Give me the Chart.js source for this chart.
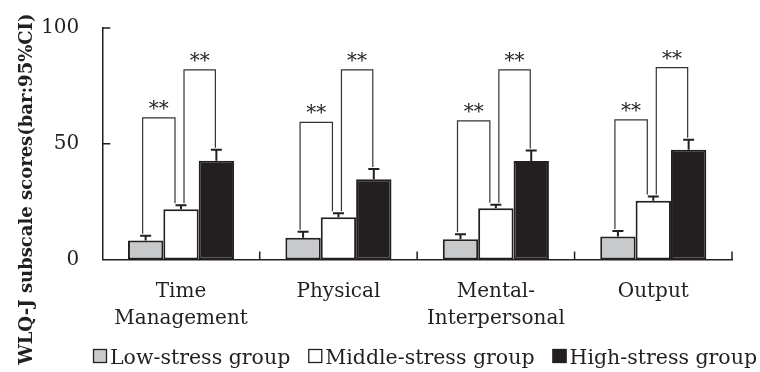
<!DOCTYPE html>
<html>
<head>
<meta charset="utf-8">
<script src="https://cdn.jsdelivr.net/npm/chart.js@4/dist/chart.umd.min.js"></script>
<style>
  html, body { margin: 0; padding: 0; background: #ffffff; }
  #wrap { position: relative; width: 760px; height: 372px; }
</style>
</head>
<body>
<div id="wrap"><canvas id="c" width="760" height="372"></canvas></div>
<script>
// WLQ-J subscales
const categories = [["Time", "Management"], ["Physical"], ["Mental-", "Interpersonal"], ["Output"]];
const seriesNames = ["Low-stress group", "Middle-stress group", "High-stress group"];

// Mean scores
const lowStress = [8.2, 9.4, 8.7, 9.9];
const middleStress = [21.7, 18.3, 22.1, 25.4];
const highStress = [42.7, 34.7, 42.6, 47.4];

// Upper limits of the 95% confidence intervals
const lowUpper = [10.3, 12.0, 10.9, 12.3];
const middleUpper = [23.4, 20.0, 23.6, 27.2];
const highUpper = [47.4, 39.1, 47.1, 51.7];

// Heights of the significance brackets (** p<0.01)
const sigLowMid = [61.2, 59.2, 59.9, 60.3];
const sigMidHigh = [81.9, 81.9, 81.9, 82.9];
const sigLabel = "**";

const yTicks = [0, 50, 100];
const yTitle = "WLQ-J subscale scores(bar:95%CI)";

const INK = "#231f20";
const FONT = "'DejaVu Serif', serif";
const fills = ["#c8c9cb", "#ffffff", INK];
const uppers = [lowUpper, middleUpper, highUpper];

const annotate = {
  id: "annotate",
  afterDatasetsDraw(chart) {
    const ctx = chart.ctx;
    const ys = chart.scales.y, xs = chart.scales.x;
    const area = chart.chartArea;
    ctx.save();
    ctx.strokeStyle = INK;
    ctx.fillStyle = INK;

    // upper confidence-limit whiskers
    ctx.lineWidth = 2;
    chart.data.datasets.forEach((ds, i) => {
      chart.getDatasetMeta(i).data.forEach((bar, j) => {
        const yt = ys.getPixelForValue(uppers[i][j]);
        ctx.beginPath();
        ctx.moveTo(bar.x, bar.y);
        ctx.lineTo(bar.x, yt);
        ctx.moveTo(bar.x - 5.5, yt);
        ctx.lineTo(bar.x + 5.5, yt);
        ctx.stroke();
      });
    });

    // significance brackets
    const lowBars = chart.getDatasetMeta(0).data;
    const midBars = chart.getDatasetMeta(1).data;
    const highBars = chart.getDatasetMeta(2).data;
    ctx.lineWidth = 1.2;
    ctx.strokeStyle = "#333333";
    ctx.font = "20px " + FONT;
    ctx.textAlign = "center";
    ctx.textBaseline = "alphabetic";
    const bracket = (xa, xb, top, endA, endB) => {
      const yTop = ys.getPixelForValue(top);
      const ya = ys.getPixelForValue(endA) - 2;
      const yb = ys.getPixelForValue(endB) - 2;
      ctx.beginPath();
      ctx.moveTo(xa, ya);
      ctx.lineTo(xa, yTop);
      ctx.lineTo(xb, yTop);
      ctx.lineTo(xb, yb);
      ctx.stroke();
      ctx.fillText(sigLabel, (xa + xb) / 2, yTop - 3);
    };
    categories.forEach((c, j) => {
      bracket(lowBars[j].x - 3, midBars[j].x - 6, sigLowMid[j], lowUpper[j], middleUpper[j]);
      bracket(midBars[j].x + 3, highBars[j].x - 1, sigMidHigh[j], middleUpper[j], highUpper[j]);
    });

    // inward tick marks
    ctx.strokeStyle = INK;
    ctx.lineWidth = 1.5;
    ctx.beginPath();
    yTicks.forEach(v => {
      if (v === 0) return;
      const y = ys.getPixelForValue(v);
      ctx.moveTo(area.left, y);
      ctx.lineTo(area.left + 8, y);
    });
    for (let j = 0; j < categories.length; j++) {
      const x = j < categories.length - 1
        ? (xs.getPixelForValue(j) + xs.getPixelForValue(j + 1)) / 2
        : area.right;
      ctx.moveTo(x, area.bottom);
      ctx.lineTo(x, area.bottom - 8);
    }
    ctx.stroke();
    ctx.restore();
  },
  afterDraw(chart) {
    const ctx = chart.ctx;
    ctx.save();
    ctx.fillStyle = INK;
    // vertical axis title
    ctx.translate(32, 189);
    ctx.rotate(-Math.PI / 2);
    ctx.font = "bold 18px " + FONT;
    ctx.textAlign = "center";
    ctx.textBaseline = "alphabetic";
    ctx.fillText(yTitle, 0, 0);
    ctx.restore();

    // legend
    ctx.save();
    ctx.font = "20.5px " + FONT;
    ctx.textBaseline = "alphabetic";
    ctx.textAlign = "left";
    let x = 93;
    const box = 14, boxTop = 349, base = 364;
    chart.data.datasets.forEach((ds, i) => {
      ctx.fillStyle = ds.backgroundColor;
      ctx.fillRect(x, boxTop, box, box);
      ctx.strokeStyle = INK;
      ctx.lineWidth = 1.3;
      ctx.strokeRect(x + 0.5, boxTop + 0.5, box - 1, box - 1);
      ctx.fillStyle = INK;
      ctx.fillText(ds.label, x + box + 3, base);
      x += box + 3 + ctx.measureText(ds.label).width + 18;
    });
    ctx.restore();
  }
};

new Chart(document.getElementById("c"), {
  type: "bar",
  data: {
    labels: categories,
    datasets: [lowStress, middleStress, highStress].map((d, i) => ({
      label: seriesNames[i],
      data: d,
      backgroundColor: fills[i],
      borderColor: INK,
      borderWidth: 2,
      borderSkipped: false,
      barPercentage: 1,
      categoryPercentage: 0.674
    }))
  },
  options: {
    responsive: false,
    animation: false,
    events: [],
    layout: { padding: { top: 28, right: 28, left: 0, bottom: 0 } },
    plugins: { legend: { display: false }, tooltip: { enabled: false } },
    scales: {
      x: {
        grid: { display: false, drawTicks: false },
        border: { display: true, color: INK, width: 1.5 },
        ticks: {
          color: INK,
          padding: 19,
          font: { family: FONT, size: 20, lineHeight: 1.35 },
          maxRotation: 0,
          autoSkip: false
        },
        afterFit(s) { s.height = 112.5; }
      },
      y: {
        min: 0,
        max: 100,
        afterBuildTicks(s) { s.ticks = yTicks.map(v => ({ value: v })); },
        grid: { display: false, drawTicks: false },
        border: { display: true, color: INK, width: 1.5 },
        ticks: {
          color: INK,
          padding: 23,
          font: { family: FONT, size: 20 }
        },
        afterFit(s) {
          s.width = 102.3;
          s.paddingTop = 12;
          s.paddingBottom = 12;
        }
      }
    }
  },
  plugins: [annotate]
});
</script>
</body>
</html>
